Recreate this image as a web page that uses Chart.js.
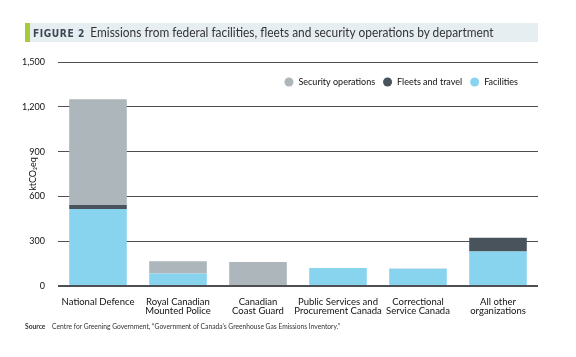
<!DOCTYPE html>
<html><head><meta charset="utf-8">
<script src="https://cdn.jsdelivr.net/npm/chart.js@4.4.1/dist/chart.umd.min.js"></script>
<style>
html,body{margin:0;padding:0;background:#fff;}
#wrap{position:relative;width:576px;height:357px;overflow:hidden;}
#c{position:absolute;left:0;top:0;}
#green{position:absolute;left:25px;top:23px;width:5px;height:19px;background:#a9c83b;}
#title{position:absolute;left:30px;top:23px;width:508px;height:19px;background:#e6eef2;}
#title span{position:absolute;left:3px;top:0;font-family:Lato,sans-serif;font-size:13px;line-height:19px;color:#333;white-space:nowrap;transform:scaleX(0.915);transform-origin:0 50%;}
#title b{font-family:'DejaVu Sans',sans-serif;font-size:10px;letter-spacing:0.6px;color:#3c4852;margin-right:6px;}
#src{position:absolute;left:25px;top:322px;font-family:Lato,sans-serif;font-size:6.7px;color:#333;white-space:nowrap;}
#src b{margin-right:5px;}
</style></head>
<body><div id="wrap">
<canvas id="c" width="576" height="357"></canvas>
<div id="green"></div>
<div id="title"><span><b>FIGURE 2</b>Emissions from federal facilities, fleets and security operations by department</span></div>
<div id="src"><b>Source</b> Centre for Greening Government, “Government of Canada’s Greenhouse Gas Emissions Inventory.”</div>
</div>
<script>
const categories = [
  ["National Defence"],
  ["Royal Canadian","Mounted Police"],
  ["Canadian","Coast Guard"],
  ["Public Services and","Procurement Canada"],
  ["Correctional","Service Canada"],
  ["All other","organizations"]
];
const facilities = [515, 83, 0, 120, 115, 231];
const fleetsTravel = [28, 0, 0, 0, 0, 92];
const securityOps = [707, 82, 160, 0, 3, 0];
const yTicks = [0, 300, 600, 900, 1200, 1500];

const FONT = "Lato, sans-serif";
Chart.defaults.font.family = FONT;
Chart.defaults.color = '#111';

const legendPlugin = {
  id: 'inLegend',
  afterDraw(chart) {
    const ctx = chart.ctx;
    const items = chart.data.datasets.slice().reverse();
    ctx.save();
    ctx.font = "9px " + FONT;
    ctx.textBaseline = 'middle';
    const y = 82;
    const gap = 8, r = 4.5, tgap = 5;
    let widths = items.map(d => 2*r + tgap + ctx.measureText(d.label).width);
    let total = widths.reduce((a,b)=>a+b,0) + gap*(items.length-1);
    let x = chart.chartArea.right - 20 - total;
    items.forEach((d,i) => {
      ctx.fillStyle = d.backgroundColor;
      ctx.beginPath(); ctx.arc(x + r, y, r, 0, Math.PI*2); ctx.fill();
      ctx.fillStyle = '#111';
      ctx.fillText(d.label, x + 2*r + tgap, y);
      x += widths[i] + gap;
    });
    ctx.restore();
  }
};

new Chart(document.getElementById('c'), {
  type: 'bar',
  data: {
    labels: categories,
    datasets: [
      {label: 'Facilities', data: facilities, backgroundColor: '#88d4ef'},
      {label: 'Fleets and travel', data: fleetsTravel, backgroundColor: '#48535c'},
      {label: 'Security operations', data: securityOps, backgroundColor: '#adb6ba'}
    ]
  },
  plugins: [legendPlugin],
  options: {
    responsive: false,
    animation: false,
    layout: {padding: {left: 20, right: 38, top: 62, bottom: 40}},
    datasets: {bar: {barPercentage: 0.72, categoryPercentage: 1}},
    plugins: {
      tooltip: {enabled: false},
      legend: {display: false}
    },
    scales: {
      x: {
        stacked: true,
        grid: {display: false},
        border: {display: false},
        ticks: {font: {size: 9.5, family: FONT, lineHeight: 0.95}, color: '#111', padding: 3, maxRotation: 0, autoSkip: false},
        afterFit(s){ s.height = 31; }
      },
      y: {
        stacked: true, min: 0, max: 1500,
        afterBuildTicks(s){ s.ticks = yTicks.map(v => ({value: v})); },
        grid: {color: '#4d4f52', lineWidth: c => c.tick && c.tick.value === 0 ? 2 : 1, drawTicks: false},
        border: {display: false},
        ticks: {font: {size: 9, family: FONT}, color: '#111', padding: 13,
          callback: v => v.toLocaleString('en-US')},
        title: {display: true, text: 'ktCO₂eq', font: {size: 9, family: FONT}, color: '#111', padding: {top: 8, bottom: 0}},
        afterFit(s){ s.width = 38; }
      }
    }
  }
});
</script>
</body></html>
